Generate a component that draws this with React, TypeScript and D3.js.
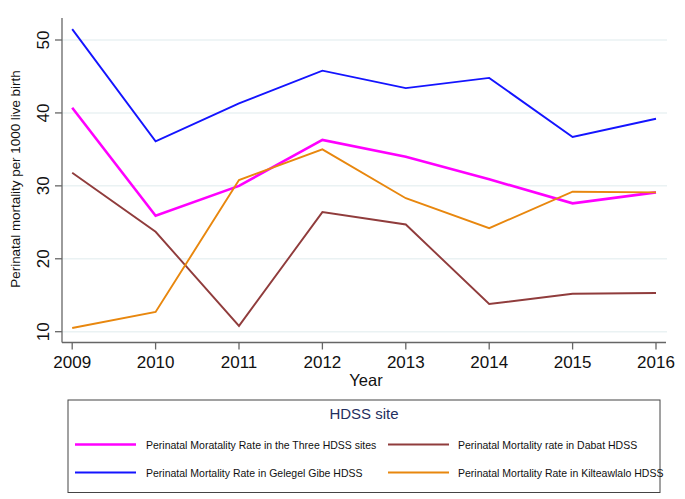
import React from "react";
import * as d3 from "d3";

const years = [2009, 2010, 2011, 2012, 2013, 2014, 2015, 2016];
const threeSites = [40.7, 25.9, 30.0, 36.3, 34.0, 30.9, 27.6, 29.1];
const gilgelGibe = [51.5, 36.1, 41.3, 45.8, 43.4, 44.8, 36.7, 39.2];
const dabat = [31.8, 23.7, 10.8, 26.4, 24.7, 13.8, 15.2, 15.3];
const kilteawlalo = [10.5, 12.7, 30.8, 35.0, 28.3, 24.2, 29.2, 29.1];
const yTicks = [10, 20, 30, 40, 50];

const seriesNames = [
  "Perinatal Moratality Rate in the Three HDSS sites",
  "Perinatal Mortality Rate in Gelegel Gibe HDSS",
  "Perinatal Mortality rate in Dabat HDSS",
  "Perinatal Mortality Rate in Kilteawlalo HDSS",
];

export default function App() {
  const W = 685, H = 499;
  const x = d3.scaleLinear().domain([2009, 2016]).range([72.2, 656]);
  const y = d3.scaleLinear().domain([10, 50]).range([331.7, 40]);
  const font = "Liberation Sans, Arial, sans-serif";
  const series = [
    { name: seriesNames[0], values: threeSites, color: "#ff00ff", w: 2.6 },
    { name: seriesNames[1], values: gilgelGibe, color: "#1414ff", w: 1.9 },
    { name: seriesNames[2], values: dabat, color: "#903c3c", w: 1.9 },
    { name: seriesNames[3], values: kilteawlalo, color: "#e8870e", w: 1.9 },
  ];
  const line = d3
    .line<[number, number]>()
    .x((d) => x(d[0]))
    .y((d) => y(d[1]));
  const legendPos = [
    { lx: 75, tx: 146, ly: 444.5 },
    { lx: 75, tx: 146, ly: 472.5 },
    { lx: 388, tx: 458, ly: 444.5 },
    { lx: 388, tx: 458, ly: 472.5 },
  ];
  return (
    <svg width={W} height={H} style={{ position: "absolute", left: 0, top: 0 }} fontFamily={font}>
      <rect width={W} height={H} fill="#fff" />
      {yTicks.map((t) => (
        <line key={"g" + t} x1={62} x2={667} y1={y(t)} y2={y(t)} stroke="#eaf2f3" strokeWidth={1.5} />
      ))}
      {series.map((s) => (
        <path
          key={s.name}
          d={line(years.map((yr, i) => [yr, s.values[i]] as [number, number])) || ""}
          fill="none"
          stroke={s.color}
          strokeWidth={s.w}
        />
      ))}
      <line x1={62} x2={62} y1={18} y2={342.5} stroke="#666" strokeWidth={1.3} />
      <line x1={62} x2={666} y1={342.5} y2={342.5} stroke="#666" strokeWidth={1.3} />
      {yTicks.map((t) => (
        <g key={"t" + t}>
          <line x1={55} x2={62} y1={y(t)} y2={y(t)} stroke="#666" strokeWidth={1.3} />
          <text
            transform={`translate(49,${y(t)}) rotate(-90)`}
            textAnchor="middle"
            fontSize={17}
            fill="#111"
          >
            {t}
          </text>
        </g>
      ))}
      {years.map((yr) => (
        <g key={"x" + yr}>
          <line x1={x(yr)} x2={x(yr)} y1={342.5} y2={349.5} stroke="#666" strokeWidth={1.3} />
          <text x={x(yr)} y={368} textAnchor="middle" fontSize={17} fill="#111">
            {yr}
          </text>
        </g>
      ))}
      <text x={366} y={386} textAnchor="middle" fontSize={16.5} fill="#111">
        Year
      </text>
      <text
        transform="translate(19.5,179) rotate(-90)"
        textAnchor="middle"
        fontSize={13.4}
        fill="#111"
      >
        Perinatal mortality per 1000 live birth
      </text>
      <rect x={68} y={400} width={592} height={92.5} fill="#fff" stroke="#444" strokeWidth={1} />
      <text x={364} y={419} textAnchor="middle" fontSize={15} fill="#1f2f5f">
        HDSS site
      </text>
      {series.map((s, i) => (
        <g key={"l" + i}>
          <line
            x1={legendPos[i].lx}
            x2={legendPos[i].lx + 61}
            y1={legendPos[i].ly}
            y2={legendPos[i].ly}
            stroke={s.color}
            strokeWidth={s.w}
          />
          <text x={legendPos[i].tx} y={legendPos[i].ly + 4} fontSize={10.5} fill="#111">
            {s.name}
          </text>
        </g>
      ))}
    </svg>
  );
}
